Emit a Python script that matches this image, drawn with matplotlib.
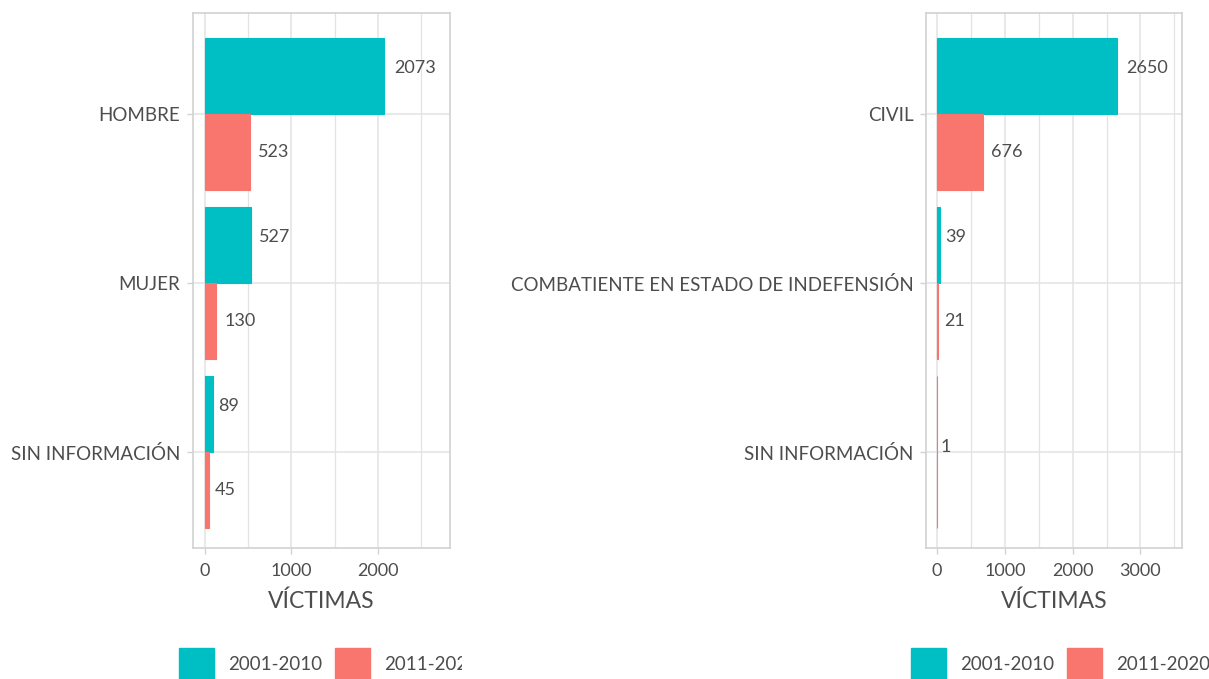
import numpy as np
import matplotlib
matplotlib.use("Agg")
import matplotlib.pyplot as plt
from matplotlib.patches import Rectangle

plt.rcParams['font.family'] = ['Lato', 'DejaVu Sans']

# victims by sex
sexo = ["HOMBRE", "MUJER", "SIN INFORMACIÓN"]
sexo_2001 = [2073, 527, 89]
sexo_2011 = [523, 130, 45]

# victims by condition
condicion = ["CIVIL", "COMBATIENTE EN ESTADO DE INDEFENSIÓN", "SIN INFORMACIÓN"]
cond_2001 = [2650, 39, None]
cond_2011 = [676, 21, 1]

periodos = ["2001-2010", "2011-2020"]
colores = ["#00BFC4", "#F8766D"]

W, H = 1209, 679
TXT = "#4D4D4D"
GRID = "#E3E3E3"
BORDER = "#D2D2D2"


def panel(ax, cats, s1, s2, xlim, ticks):
    ax.set_xlim(*xlim)
    ax.set_ylim(len(cats) - 0.432, -0.598)
    ax.set_xticks(ticks)
    ax.set_xticks([t + 500 for t in ticks], minor=True)
    ax.set_yticks(range(len(cats)))
    ax.set_yticklabels(cats)
    ax.grid(True, which="major", color=GRID, lw=1.1)
    ax.grid(True, which="minor", axis="x", color=GRID, lw=0.9)
    ax.set_axisbelow(True)
    for sp in ax.spines.values():
        sp.set_color(BORDER)
        sp.set_linewidth(1.2)
    ax.tick_params(colors=BORDER, labelcolor=TXT, length=4, width=1)
    ax.tick_params(axis="x", labelsize=13, pad=7)
    ax.tick_params(axis="y", labelsize=13.5, pad=5)
    ax.tick_params(which="minor", length=0)
    for i, (a, b) in enumerate(zip(s1, s2)):
        present = [(v, c, d) for v, c, d in zip((a, b), colores, (-0.045, 0.0)) if v is not None]
        hgt = 0.9 / len(present)
        for k, (v, c, d) in enumerate(present):
            y = i - 0.45 + hgt * (k + 0.5)
            ax.barh(y, v, height=hgt, color=c, edgecolor=c, lw=0.8, zorder=2)
            if len(present) == 1:
                d = -0.03
            # gap grows with the label width, like a negative hjust
            gap = 1.2 + 1.5 * len(str(v))
            ax.annotate(str(v), xy=(v, y + d), xytext=(gap, 0), textcoords="offset points",
                        va="center", ha="left", fontsize=13, color=TXT)
    ax.set_xlabel("VÍCTIMAS", fontsize=16.5, color=TXT, labelpad=8)


fig = plt.figure(figsize=(W / 100, H / 100), dpi=100)

ax1 = fig.add_axes([193 / W, 1 - 548 / H, (450 - 193) / W, (548 - 13) / H])
panel(ax1, sexo, sexo_2001, sexo_2011, (-139, 2833), [0, 1000, 2000])

ax2 = fig.add_axes([926 / W, 1 - 548 / H, (1182 - 926) / W, (548 - 13) / H])
panel(ax2, condicion, cond_2001, cond_2011, (-162, 3613), [0, 1000, 2000, 3000])


def leyenda(x0, x1, kx):
    lg = fig.add_axes([x0 / W, 0, (x1 - x0) / W, 50 / H])
    lg.set_xlim(x0, x1)
    lg.set_ylim(0, 50)
    lg.axis("off")
    for k, (p, c) in enumerate(zip(periodos, colores)):
        x = kx + k * 156
        lg.add_patch(Rectangle((x, 0), 35, 31, color=c, clip_on=True))
        t = lg.text(x + 49, 15, p, va="center", ha="left", fontsize=13.5, color=TXT)
        t.set_clip_on(True)


leyenda(0, 462, 179)
leyenda(463, W, 911)

fig.savefig("out.png", dpi=100)
